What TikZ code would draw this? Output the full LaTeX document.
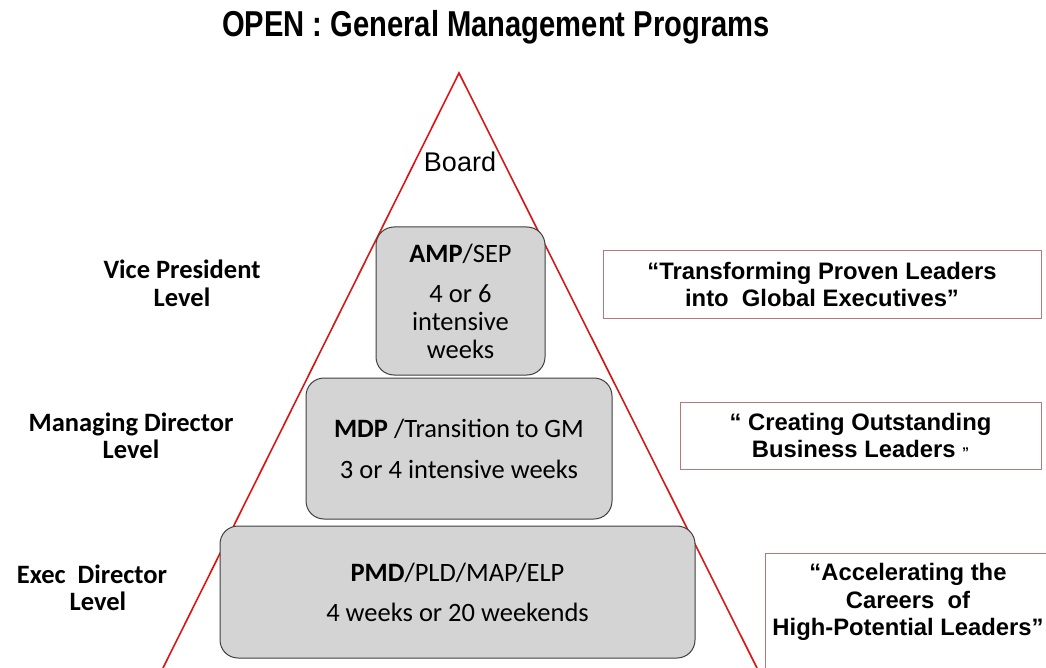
\documentclass[tikz,border=0pt]{standalone}
\usepackage{fontspec}
\setmainfont{Carlito}
\newfontfamily\arialf{Liberation Sans}
\begin{document}
\begin{tikzpicture}[x=1pt,y=-1pt,
  prog/.style={draw={rgb,255:red,64;green,64;blue,64}, line width=1pt, fill={rgb,255:red,212;green,212;blue,212}, rounded corners=18pt, align=center, inner sep=0pt, font=\fontsize{26.5}{28}\selectfont},
  lvl/.style={align=center, font=\fontsize{26.5}{27.5}\selectfont\bfseries, inner sep=0pt},
  quote/.style={draw={rgb,255:red,185;green,120;blue,120}, line width=1pt, fill=white, align=center, inner sep=0pt, font=\arialf\fontsize{23.8}{27.5}\selectfont\bfseries},
  tri/.style={draw={rgb,255:red,220;green,20;blue,20}, line width=1.6pt}]
\useasboundingbox (0,0) rectangle (1046,668);
\fill[white] (0,0) rectangle (1046,668);
% title
\node (title) at (496,27) {\arialf\bfseries\fontsize{36}{36}\selectfont\scalebox{0.81}[1]{OPEN : General Management Programs}};
% triangle
\coordinate (apex) at (459,73);
\coordinate (bl) at (163,668);
\coordinate (br) at (757,668);
\draw[tri] (bl) -- (apex) -- (br);
\node[font=\arialf\fontsize{27}{27}\selectfont] (board) at (460,162) {Board};
% program boxes
\node[prog, minimum width=169pt, minimum height=148pt] (amp) at (460.5,301) {\textbf{AMP}/SEP\\[12pt]4 or 6\\intensive\\weeks};
\node[prog, minimum width=306pt, minimum height=141pt] (mdp) at (459,448.5) {\textbf{MDP} /Transition to GM\\[13pt]3 or 4 intensive weeks};
\node[prog, minimum width=475pt, minimum height=132pt] (pmd) at (457.5,592) {\textbf{PMD}/PLD/MAP/ELP\\[12pt]4 weeks or 20 weekends};
% level labels
\node[lvl] (vp) at (182,283.5) {Vice President\\Level};
\node[lvl] (md) at (131,436) {Managing Director\\Level};
\node[lvl] (ed) at (92,588) {Exec\ \ Director\\\ \ Level};
% quote boxes
\node[quote, minimum width=438pt, minimum height=67pt] (q1) at (822,284.5) {\textquotedblleft Transforming Proven Leaders\\into\ \ Global Executives\textquotedblright};
\node[quote, minimum width=361pt, minimum height=67pt] (q2) at (860.5,435.5) {\textquotedblleft\ Creating Outstanding\\Business Leaders {\fontsize{14}{14}\selectfont\textquotedblright}};
\draw[draw={rgb,255:red,185;green,120;blue,120}, line width=1pt] (1050,553) -- (765,553) -- (765,672);
\node[quote, draw=none, fill=none] (q3) at (908,602) {\textquotedblleft Accelerating the\\Careers\ \ of\\High-Potential Leaders\textquotedblright};
\end{tikzpicture}
\end{document}
